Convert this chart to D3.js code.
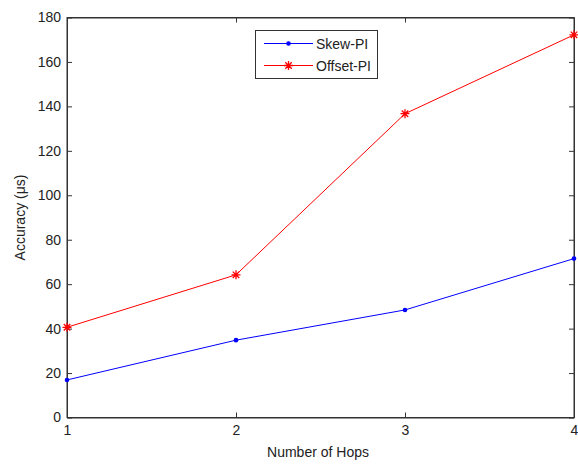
<!DOCTYPE html>
<html><head><meta charset="utf-8">
<script src="https://cdn.jsdelivr.net/npm/d3@7"></script>
<style>body{margin:0;background:#fff}svg{display:block}text{font-family:"Liberation Sans",Arial,sans-serif}</style>
</head><body>
<script>
const hops = [1, 2, 3, 4];
const skewPI = [16.9, 34.8, 48.4, 71.5];
const offsetPI = [40.6, 64.2, 136.7, 172.2];
const yTicks = [0, 20, 40, 60, 80, 100, 120, 140, 160, 180];
const seriesNames = ["Skew-PI", "Offset-PI"];

const W = 578, H = 465;
const m = {l: 67, r: 4, t: 17.5, b: 47.5};
const svg = d3.select("body").append("svg").attr("width", W).attr("height", H);
const x = d3.scaleLinear().domain([1, 4]).range([m.l, W - m.r]);
const y = d3.scaleLinear().domain([0, 180]).range([H - m.b, m.t]);
const ax = "#333";
const FF = '"Liberation Sans",Arial,sans-serif';

svg.append("rect").attr("x", x(1)).attr("y", y(180)).attr("width", x(4) - x(1)).attr("height", y(0) - y(180))
  .attr("fill", "none").attr("stroke", ax).attr("stroke-width", 1);

const fs = 14;
const gxb = svg.append("g").attr("transform", `translate(0,${y(0)})`)
  .call(d3.axisBottom(x).tickValues(hops).tickFormat(d3.format("d")).tickSizeInner(-5).tickSizeOuter(0).tickPadding(8));
const gxt = svg.append("g").attr("transform", `translate(0,${y(180)})`)
  .call(d3.axisTop(x).tickValues(hops).tickFormat("").tickSizeInner(-5).tickSizeOuter(0));
const gyl = svg.append("g").attr("transform", `translate(${x(1)},0)`)
  .call(d3.axisLeft(y).tickValues(yTicks).tickFormat(d3.format("d")).tickSizeInner(-5).tickSizeOuter(0).tickPadding(6));
const gyr = svg.append("g").attr("transform", `translate(${x(4)},0)`)
  .call(d3.axisRight(y).tickValues(yTicks).tickFormat("").tickSizeInner(-5).tickSizeOuter(0));
[gxb, gxt, gyl, gyr].forEach(g => {
  g.select(".domain").attr("stroke", ax);
  g.selectAll(".tick line").attr("stroke", ax);
  g.selectAll("text").attr("fill", "#222").style("font-size", fs + "px").style("font-family", FF);
});

svg.append("text").attr("x", 318).attr("y", 457).attr("text-anchor", "middle")
  .style("font-size", "14px").attr("fill", "#222").text("Number of Hops");
svg.append("text").attr("transform", `translate(25,${(y(0) + y(180)) / 2}) rotate(-90)`).attr("text-anchor", "middle")
  .style("font-size", "14px").attr("fill", "#222").text("Accuracy (\u03bcs)");

const line = d3.line().x((d, i) => x(hops[i])).y(d => y(d));
const colors = ["#0000ff", "#ff0000"];
[skewPI, offsetPI].forEach((s, k) => {
  svg.append("path").datum(s).attr("d", line).attr("fill", "none").attr("stroke", colors[k]).attr("stroke-width", 1);
});
function star(g, cx, cy, r, c) {
  const a = r * 0.72;
  g.append("path").attr("d", `M${cx - r},${cy}L${cx + r},${cy}M${cx},${cy - r}L${cx},${cy + r}M${cx - a},${cy - a}L${cx + a},${cy + a}M${cx - a},${cy + a}L${cx + a},${cy - a}`)
    .attr("stroke", c).attr("stroke-width", 1.3).attr("fill", "none");
}
skewPI.forEach((d, i) => svg.append("circle").attr("cx", x(hops[i])).attr("cy", y(d)).attr("r", 2.3).attr("fill", colors[0]));
offsetPI.forEach((d, i) => star(svg, x(hops[i]), y(d), 4.5, colors[1]));

const lg = svg.append("g");
lg.append("rect").attr("x", 255.5).attr("y", 30.5).attr("width", 122).attr("height", 48).attr("fill", "#fff").attr("stroke", ax);
seriesNames.forEach((n, k) => {
  const yy = 43.5 + k * 22;
  lg.append("line").attr("x1", 264).attr("x2", 313).attr("y1", yy).attr("y2", yy).attr("stroke", colors[k]);
  if (k === 0) lg.append("circle").attr("cx", 288.5).attr("cy", yy).attr("r", 2.3).attr("fill", colors[0]);
  else star(lg, 288.5, yy, 4.5, colors[1]);
  lg.append("text").attr("x", 316).attr("y", yy + 5).style("font-size", "14px").attr("fill", "#222").text(n);
});
</script>
</body></html>
